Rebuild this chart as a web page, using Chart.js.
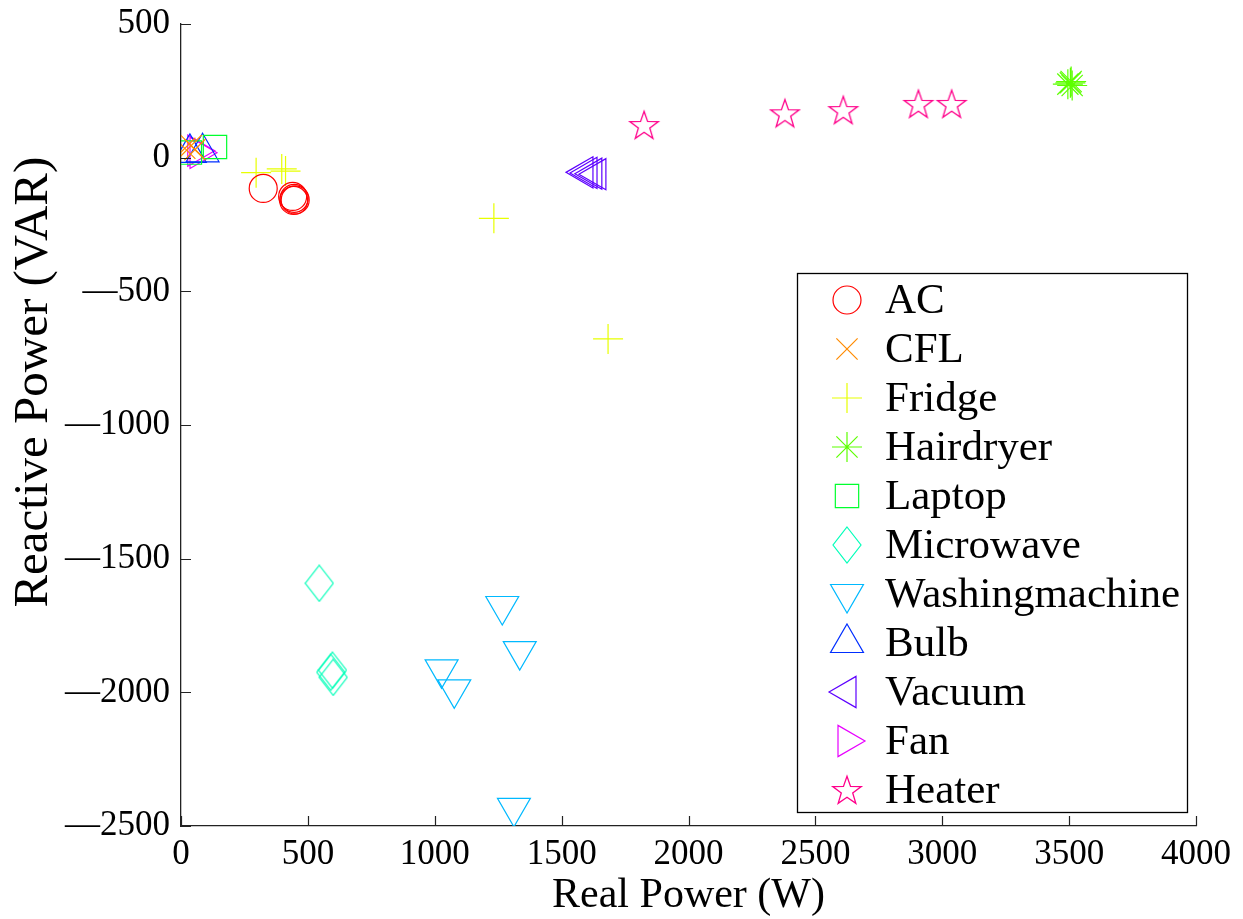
<!DOCTYPE html>
<html><head><meta charset="utf-8">
<script src="https://cdn.jsdelivr.net/npm/chart.js@4/dist/chart.umd.min.js"></script>
<style>html,body{margin:0;padding:0;background:#fff}</style>
</head><body>
<canvas id="c" width="1243" height="919" style="display:block;width:1243px;height:919px"></canvas>
<script>
// ---- data ----
const xTicks = [0, 500, 1000, 1500, 2000, 2500, 3000, 3500, 4000];
const yTicks = [-2500, -2000, -1500, -1000, -500, 0, 500];
const seriesNames = ['AC','CFL','Fridge','Hairdryer','Laptop','Microwave','Washingmachine','Bulb','Vacuum','Fan','Heater'];
const acData = [[324,-115],[440,-145],[446,-152],[450,-158],[444,-160]];
const cflData = [[15,35],[40,45],[55,30]];
const fridgeData = [[296,-56],[397,-42],[412,-50],[1233,-227],[1683,-678]];
const hairdryerData = [[3495,275],[3505,280],[3512,270],[3508,285]];
const laptopData = [[35,19],[134,40]];
const microwaveData = [[545,-1592],[590,-1925],[597,-1917],[600,-1944]];
const washingData = [[1266,-1677],[1335,-1846],[1027,-1914],[1077,-1989],[1312,-2432]];
const bulbData = [[35,18],[85,20]];
const vacuumData = [[1588,-55],[1604,-57],[1623,-60],[1639,-62]];
const fanData = [[71,18],[62,26]];
const heaterData = [[1825,122],[2380,166],[2610,178],[2906,201],[3037,201]];
const seriesColors = ['#ff0000','#ff8b00','#e8ff00','#5dff00','#00ff2e','#00ffb9','#00b9ff','#002eff','#5d00ff','#e800ff','#ff008b'];

// ---- custom marker images ----
function makePentagram(color, R){
  const s = Math.ceil(2*R+4), c = document.createElement('canvas');
  c.width = s; c.height = s;
  const g = c.getContext('2d'), cx = s/2, cy = s/2 + R*0.08, r = R*0.4;
  g.strokeStyle = color; g.lineWidth = 1.3; g.beginPath();
  for (let i=0;i<10;i++){
    const a = -Math.PI/2 + i*Math.PI/5, rr = (i%2===0)?R:r;
    const px = cx + Math.cos(a)*rr, py = cy + Math.sin(a)*rr;
    if(i===0) g.moveTo(px,py); else g.lineTo(px,py);
  }
  g.closePath(); g.stroke(); return c;
}
function makeDiamond(color, w, h){
  const c = document.createElement('canvas');
  c.width = w+2; c.height = h+2;
  const g = c.getContext('2d');
  g.strokeStyle = color; g.lineWidth = 1.2; g.beginPath();
  g.moveTo(1+w/2,1); g.lineTo(1+w,1+h/2); g.lineTo(1+w/2,1+h); g.lineTo(1,1+h/2); g.closePath(); g.stroke();
  return c;
}

const styles = [
  {ps:'circle', r:14, rot:0},
  {ps:'crossRot', r:15, rot:0},
  {ps:'cross', r:15, rot:0},
  {ps:'star', r:15, rot:0},
  {ps:'rect', r:16.5, rot:0},
  {ps:makeDiamond(seriesColors[5],28,36), r:15, rot:0},
  {ps:'triangle', r:19, rot:180},
  {ps:'triangle', r:19, rot:0},
  {ps:'triangle', r:18, rot:270},
  {ps:'triangle', r:18, rot:90},
  {ps:makePentagram(seriesColors[10],15), r:15, rot:0}
];
const allData = [acData,cflData,fridgeData,hairdryerData,laptopData,microwaveData,washingData,bulbData,vacuumData,fanData,heaterData];

const datasets = seriesNames.map((n,i)=>({
  label:n,
  data: allData[i].map(p=>({x:p[0], y:p[1]})),
  pointStyle: styles[i].ps,
  pointRadius: styles[i].r,
  pointRotation: styles[i].rot,
  borderColor: seriesColors[i],
  backgroundColor: 'rgba(0,0,0,0)',
  pointBorderWidth: 1.2,
  showLine:false
}));

function drawMarker(ctx, st, color, x, y){
  ctx.save();
  ctx.strokeStyle = color; ctx.lineWidth = 1.2;
  const r = st.r, ps = st.ps;
  if (typeof ps === 'object'){ ctx.drawImage(ps, x-ps.width/2, y-ps.height/2); ctx.restore(); return; }
  ctx.beginPath();
  const d = r*Math.SQRT1_2;
  if (ps==='circle'){ ctx.arc(x,y,r,0,Math.PI*2); }
  else if (ps==='crossRot'){ ctx.moveTo(x-d,y-d); ctx.lineTo(x+d,y+d); ctx.moveTo(x-d,y+d); ctx.lineTo(x+d,y-d); }
  else if (ps==='cross'){ ctx.moveTo(x-r,y); ctx.lineTo(x+r,y); ctx.moveTo(x,y-r); ctx.lineTo(x,y+r); }
  else if (ps==='star'){ ctx.moveTo(x-r,y); ctx.lineTo(x+r,y); ctx.moveTo(x,y-r); ctx.lineTo(x,y+r);
    ctx.moveTo(x-d,y-d); ctx.lineTo(x+d,y+d); ctx.moveTo(x-d,y+d); ctx.lineTo(x+d,y-d); }
  else if (ps==='rect'){ ctx.rect(x-d,y-d,2*d,2*d); }
  else if (ps==='triangle'){
    let a = st.rot*Math.PI/180;
    for(let k=0;k<3;k++){ const px=x+Math.sin(a)*r, py=y-Math.cos(a)*r; if(k===0) ctx.moveTo(px,py); else ctx.lineTo(px,py); a += 2*Math.PI/3; }
    ctx.closePath();
  }
  ctx.stroke(); ctx.restore();
}

const FONT = "'Liberation Serif','Times New Roman',serif";

const innerTicks = {
  id:'innerTicks',
  afterDatasetsDraw(chart){
    const {ctx, chartArea:a} = chart, xs = chart.scales.x, ys = chart.scales.y;
    ctx.save(); ctx.strokeStyle='#222'; ctx.lineWidth=1.2; ctx.beginPath();
    xTicks.forEach(v=>{ const p=Math.round(xs.getPixelForValue(v))+0.5; ctx.moveTo(p,a.bottom); ctx.lineTo(p,a.bottom-10); });
    yTicks.forEach(v=>{ const p=Math.round(ys.getPixelForValue(v))+0.5; ctx.moveTo(a.left,p); ctx.lineTo(a.left+10,p); });
    ctx.stroke(); ctx.restore();
  }
};
const boxLegend = {
  id:'boxLegend',
  afterDraw(chart){
    const ctx = chart.ctx;
    const L=797, T=273, R=1187, B=812;
    ctx.save();
    ctx.fillStyle='#fff'; ctx.fillRect(L,T,R-L,B-T);
    ctx.strokeStyle='#000'; ctx.lineWidth=1.3; ctx.strokeRect(L+0.5,T+0.5,R-L,B-T);
    ctx.font = "43px "+FONT; ctx.fillStyle='#000'; ctx.textBaseline='middle'; ctx.textAlign='left';
    seriesNames.forEach((n,i)=>{
      const y = 300 + i*49;
      drawMarker(ctx, styles[i], seriesColors[i], 847, y);
      ctx.fillText(n, 885, y+2);
    });
    ctx.restore();
  }
};

const fmt = v => (v<0 ? '\u2014'+Math.abs(v) : String(v));

new Chart(document.getElementById('c'), {
  type:'scatter',
  data:{datasets},
  options:{
    responsive:false, animation:false,
    layout:{padding:{top:24, right:47, left:0, bottom:0}},
    plugins:{legend:{display:false}, tooltip:{enabled:false}},
    scales:{
      x:{
        type:'linear', min:0, max:4000,
        afterBuildTicks(s){ s.ticks = xTicks.map(v=>({value:v})); },
        afterFit(s){ s.height = 93; s.paddingLeft = 0; s.paddingRight = 0; },
        grid:{display:false, drawTicks:false},
        border:{display:true, color:'#222', width:1.3},
        ticks:{padding:8, color:'#000', font:{family:FONT, size:35}, callback:fmt, maxRotation:0, autoSkip:false},
        title:{display:true, text:'Real Power (W)', color:'#000', font:{family:FONT, size:42, lineHeight:1}, padding:{top:0,bottom:2}}
      },
      y:{
        type:'linear', min:-2500, max:500,
        afterBuildTicks(s){ s.ticks = yTicks.map(v=>({value:v})); },
        afterFit(s){ s.width = 181; s.paddingTop = 0; s.paddingBottom = 0; },
        grid:{display:false, drawTicks:false},
        border:{display:true, color:'#222', width:1.3},
        ticks:{padding:11, color:'#000', font:{family:FONT, size:35}, callback:fmt, autoSkip:false},
        title:{display:true, text:'       Reactive Power (VAR)', color:'#000', font:{family:FONT, size:49, lineHeight:1}, padding:{top:10,bottom:0}}
      }
    }
  },
  plugins:[innerTicks, boxLegend]
});
</script>
</body></html>
